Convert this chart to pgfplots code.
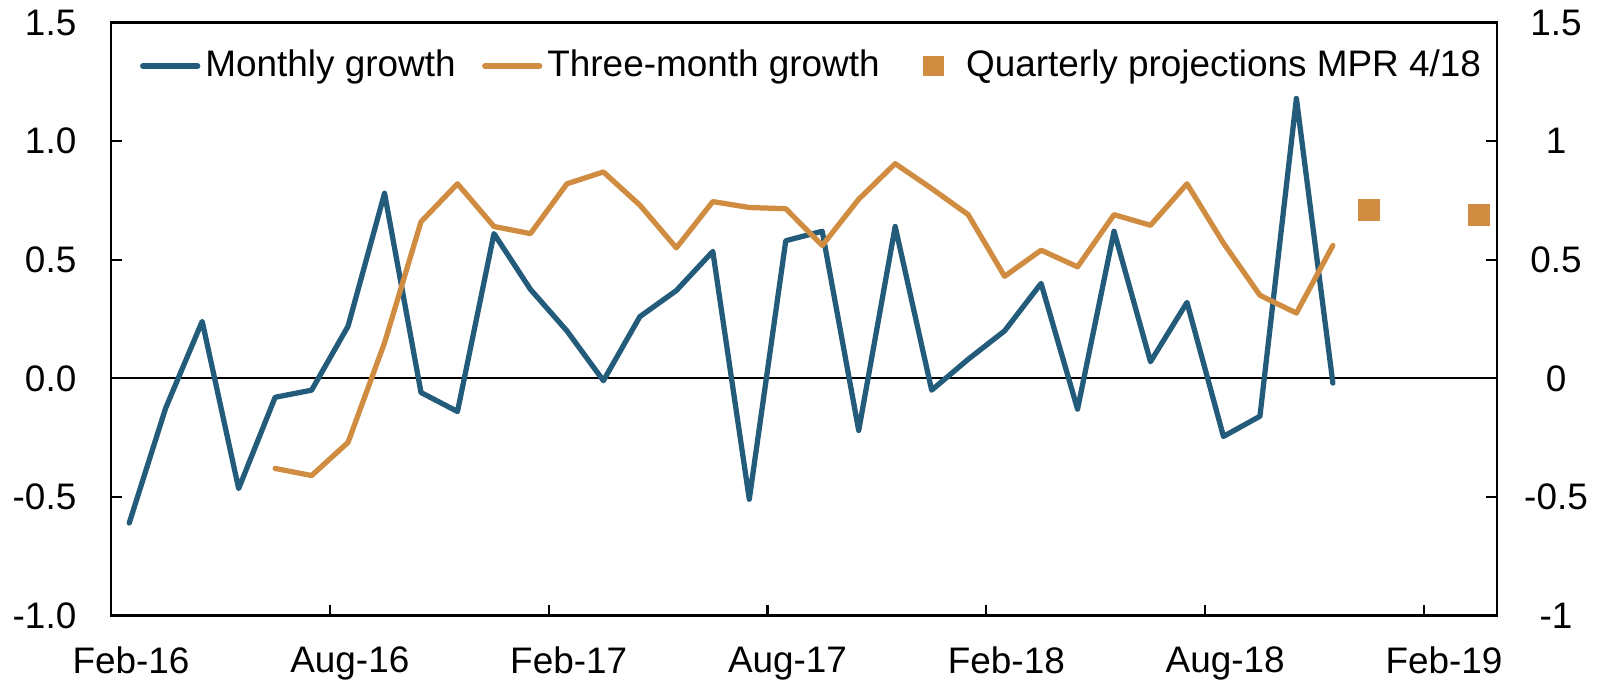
\documentclass[border=0pt]{standalone}
\usepackage{fontspec}
\setmainfont{Liberation Sans}
\usepackage{pgfplots}
\pgfplotsset{compat=1.18}
\definecolor{cblue}{RGB}{35,91,122}
\definecolor{corange}{RGB}{208,141,66}
\begin{document}
\fontsize{10.5}{12.6}\selectfont
\begin{tikzpicture}
\useasboundingbox (-1.11cm,-0.655cm) rectangle (14.92cm,6.155cm);
\begin{axis}[
  scale only axis, width=13.86cm, height=5.93cm,
  xmin=0, xmax=38, ymin=-1, ymax=1.5,
  axis line style={line width=0.6pt},
  tick style={line width=0.6pt, black},
  tick align=inside, major tick length=0.11cm,
  xtick={0,6,12,18,24,30,36},
  xticklabels={Feb-16,Aug-16,Feb-17,Aug-17,Feb-18,Aug-18,Feb-19},
  xticklabel style={anchor=north, inner sep=0pt, yshift=-0.31cm, xshift=0.2cm},
  xtick pos=left,
  ytick={-1,-0.5,0,0.5,1,1.5},
  yticklabels={-1.0,-0.5,0.0,0.5,1.0,1.5},
  yticklabel style={anchor=east, inner sep=0pt, xshift=-0.34cm},
  ytick pos=left,
  legend columns=3,
  legend cell align=left,
  legend style={draw=none, fill=none, inner sep=0pt, outer sep=0pt,
    at={(0.021,0.9266)}, anchor=west,
    nodes={inner sep=0pt},
    column sep=0.05cm,
    /tikz/every even column/.append style={column sep=0.265cm}},
  legend image code/.code={%
    \draw[#1] (0cm,0cm) -- (0.55cm,0cm);},
]
\draw[black, line width=0.5pt] (rel axis cs:0,0.4) -- (rel axis cs:1,0.4);
\addplot[cblue, line width=1.5pt, line cap=round, line join=round] coordinates {
(0.5,-0.61) (1.5,-0.125) (2.5,0.24) (3.5,-0.465) (4.5,-0.08) (5.5,-0.05)
(6.5,0.22) (7.5,0.78) (8.5,-0.06) (9.5,-0.14) (10.5,0.61) (11.5,0.375)
(12.5,0.20) (13.5,-0.01) (14.5,0.26) (15.5,0.37) (16.5,0.535) (17.5,-0.51)
(18.5,0.58) (19.5,0.62) (20.5,-0.22) (21.5,0.64) (22.5,-0.05) (23.5,0.08)
(24.5,0.20) (25.5,0.40) (26.5,-0.13) (27.5,0.62) (28.5,0.07) (29.5,0.32)
(30.5,-0.245) (31.5,-0.16) (32.5,1.18) (33.5,-0.02)
};
\addlegendentry{Monthly growth}
\addplot[corange, line width=1.5pt, line cap=round, line join=round] coordinates {
(4.5,-0.38) (5.5,-0.41) (6.5,-0.27) (7.5,0.15) (8.5,0.66) (9.5,0.82)
(10.5,0.64) (11.5,0.61) (12.5,0.82) (13.5,0.87) (14.5,0.73) (15.5,0.55)
(16.5,0.745) (17.5,0.72) (18.5,0.715) (19.5,0.56) (20.5,0.755) (21.5,0.905)
(22.5,0.80) (23.5,0.69) (24.5,0.43) (25.5,0.54) (26.5,0.47) (27.5,0.69)
(28.5,0.645) (29.5,0.82) (30.5,0.57) (31.5,0.35) (32.5,0.275) (33.5,0.56)
};
\addlegendentry{Three-month growth}
\addplot[only marks, mark=square*, mark size=0.103cm, color=corange, mark options={draw=corange, fill=corange},
  legend image code/.code={%
    \path[draw=none, fill=none] (0cm,-0.103cm) rectangle (0.55cm,0.103cm);
    \path[draw=none, fill=corange] (0.172cm,-0.103cm) rectangle (0.378cm,0.103cm);}] coordinates {
(34.5,0.71) (37.5,0.69)
};
\addlegendentry{Quarterly projections MPR 4/18}
\end{axis}
\begin{axis}[
  scale only axis, width=13.86cm, height=5.93cm,
  xmin=0, xmax=38, ymin=-1, ymax=1.5,
  hide x axis,
  axis y line*=right,
  axis line style={line width=0.6pt},
  tick style={line width=0.6pt, black},
  tick align=inside, major tick length=0.11cm,
  ytick={-1,-0.5,0,0.5,1,1.5},
  yticklabels={-1,-0.5,0,0.5,1,1.5},
  yticklabel style={anchor=center, inner sep=0pt, xshift=0.59cm},
]
\end{axis}
\end{tikzpicture}
\end{document}
